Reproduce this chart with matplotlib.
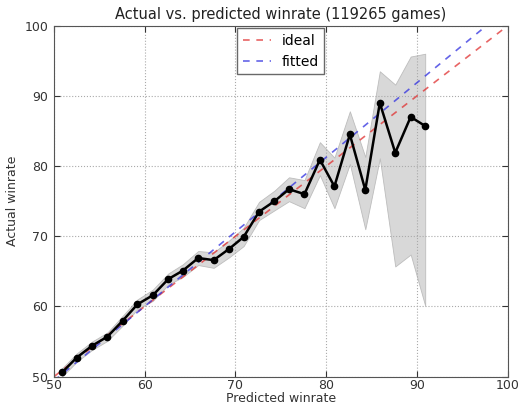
import numpy as np
from matplotlib import pyplot as plt

# binned predicted winrate (%) and observed winrate (%)
predicted = [50.9, 52.5, 54.2, 55.9, 57.6, 59.2, 60.9, 62.6, 64.2, 65.9,
             67.6, 69.3, 70.9, 72.6, 74.3, 75.9, 77.6, 79.3, 80.9, 82.6,
             84.3, 85.9, 87.6, 89.3, 90.9]
actual = [50.6, 52.7, 54.4, 55.7, 58.0, 60.3, 61.6, 63.9, 65.1, 66.9,
          66.6, 68.2, 69.9, 73.5, 75.0, 76.7, 76.0, 80.9, 77.1, 84.5,
          76.6, 89.0, 81.9, 87.0, 85.7]
lower = [50.0, 52.1, 53.8, 55.1, 57.3, 59.6, 60.8, 63.1, 64.2, 65.9,
         65.5, 67.0, 68.6, 72.3, 73.7, 75.0, 74.0, 78.7, 74.0, 80.3,
         71.0, 81.1, 65.7, 67.4, 60.1]
upper = [51.2, 53.3, 55.0, 56.3, 58.7, 61.0, 62.4, 64.7, 66.0, 67.9,
         67.7, 69.4, 71.2, 74.9, 76.5, 78.4, 78.0, 83.4, 81.2, 87.8,
         81.3, 93.5, 91.6, 95.6, 96.0]

fit_slope = 1.062
fit_intercept = -3.7

title = 'Actual vs. predicted winrate (119265 games)'


def main():
    plt.rcParams['font.family'] = 'DejaVu Sans'
    fig = plt.figure(figsize=(5.23, 4.07), dpi=100)
    ax = fig.add_axes([0.103, 0.0745, 0.868, 0.8625])

    xs = np.array([50, 100])
    ax.plot(xs, xs, '--', color='#e03030', alpha=0.75, lw=1.2,
            dashes=(4, 4), label='ideal')
    ax.plot(xs, fit_slope * xs + fit_intercept, '--', color='#3030e0',
            alpha=0.75, lw=1.2, dashes=(4, 4), label='fitted')
    ax.fill_between(predicted, lower, upper, facecolor='#d4d4d4',
                    edgecolor='#b8b8b8', lw=0.6, alpha=0.9, zorder=1.5)
    ax.plot(predicted, actual, '-o', color='black', lw=1.8, ms=4.5, zorder=3)

    ax.set_xlim(50, 100)
    ax.set_ylim(50, 100)
    ax.set_xticks(range(50, 101, 10))
    ax.set_yticks(range(50, 101, 10))
    ax.tick_params(direction='in', top=True, right=True, length=4,
                   labelsize=9, colors='#333333', pad=4)
    ax.tick_params(axis='x', pad=1.5)
    for s in ax.spines.values():
        s.set_color('#555555')
    ax.grid(True, linestyle=':', color='#aaaaaa', lw=0.8)
    ax.set_xlabel('Predicted winrate', fontsize=9, color='#333333', labelpad=0)
    ax.set_ylabel('Actual winrate', fontsize=9, color='#333333')
    ax.set_title(title, fontsize=10.5, color='#222222', pad=5)
    leg = ax.legend(loc='upper center', fontsize=10, fancybox=False,
                    handlelength=2, borderaxespad=0.2)
    leg.get_frame().set_edgecolor('#444444')

    fig.savefig('out.png', dpi=100)


if __name__ == '__main__':
    main()
